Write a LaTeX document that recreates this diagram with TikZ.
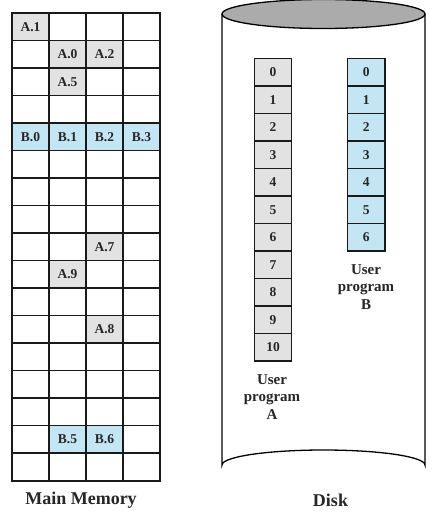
\documentclass[tikz,border=0pt]{standalone}
\usepackage{fontspec}
\setmainfont{Liberation Serif}
\definecolor{gbox}{HTML}{E2E2E2}
\definecolor{bbox}{HTML}{C4E6F4}
\definecolor{disktop}{HTML}{ABABAB}
\definecolor{edge}{HTML}{1A1A1A}
\begin{document}
\begin{tikzpicture}[x=1pt,y=-1pt,
  cell/.style={draw=edge, line width=1.1pt, minimum width=37pt, minimum height=27.5pt, inner sep=0pt,
    font=\fontsize{13.5}{15}\selectfont\bfseries, text=black!85},
  dcell/.style={draw=edge, line width=1.1pt, minimum width=37.4pt, minimum height=27.5pt, inner sep=0pt,
    font=\fontsize{13.5}{15}\selectfont\bfseries, text=black!85},
  ga/.style={fill=gbox},
  bb/.style={fill=bbox},
  lab/.style={align=center, font=\fontsize{15}{17.5}\selectfont\bfseries, text=black!85},
  title/.style={font=\fontsize{18}{20}\selectfont\bfseries, text=black!85}]
\useasboundingbox[fill=white] (0,0) rectangle (447,521);
% main memory grid
\foreach \r in {0,...,16} \foreach \c in {0,...,3}
  \node[cell] (m-\r-\c) at ({30.5+37*\c},{26.75+27.5*\r}) {};
\node[cell,ga] (a1) at (m-0-0.center) {A.1};
\node[cell,ga] (a0) at (m-1-1.center) {A.0};
\node[cell,ga] (a2) at (m-1-2.center) {A.2};
\node[cell,ga] (a5) at (m-2-1.center) {A.5};
\node[cell,bb] (b0) at (m-4-0.center) {B.0};
\node[cell,bb] (b1) at (m-4-1.center) {B.1};
\node[cell,bb] (b2) at (m-4-2.center) {B.2};
\node[cell,bb] (b3) at (m-4-3.center) {B.3};
\node[cell,ga] (a7) at (m-8-2.center) {A.7};
\node[cell,ga] (a9) at (m-9-1.center) {A.9};
\node[cell,ga] (a8) at (m-11-2.center) {A.8};
\node[cell,bb] (b5) at (m-15-1.center) {B.5};
\node[cell,bb] (b6) at (m-15-2.center) {B.6};
\draw[edge, line width=1.4pt] (m-0-0.north west) rectangle (m-16-3.south east);
\node[title] (mmlabel) at (81,500) {Main Memory};
% disk cylinder
\draw[black, line width=1.3pt, fill=white] (222,14) -- (222,465) arc[start angle=180, end angle=360, x radius=101.5, y radius=15] -- (425,14);
\draw[black, line width=1.3pt, fill=disktop] (323.5,14) ellipse[x radius=101.5, y radius=14.5];
% program A
\foreach \i in {0,...,10}
  \node[dcell,ga] (pa-\i) at (273,{72.25+27.5*\i}) {\i};
% program B
\foreach \i in {0,...,6}
  \node[dcell,bb] (pb-\i) at (366.3,{72.25+27.5*\i}) {\i};
\node[lab] (labA) at (272,397) {User\\program\\A};
\node[lab] (labB) at (366,287) {User\\program\\B};
\node[title] (disklabel) at (330.5,500) {Disk};
\end{tikzpicture}
\end{document}
